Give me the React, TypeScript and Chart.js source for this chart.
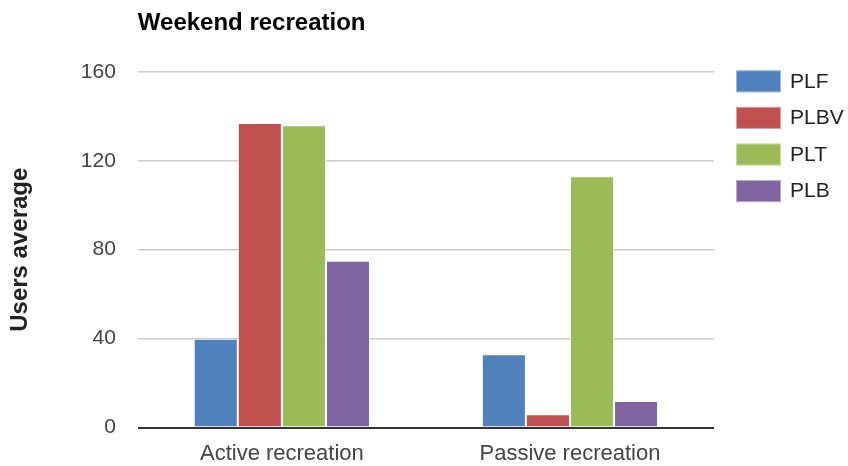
import React, { useEffect, useRef } from "react";
import { Chart, registerables } from "chart.js";

Chart.register(...registerables);

const categories = ["Active recreation", "Passive recreation"];
const seriesNames = ["PLF", "PLBV", "PLT", "PLB"];
const plfValues = [40, 33];
const plbvValues = [137, 6];
const pltValues = [136, 113];
const plbValues = [75, 12];
const seriesColors = ["#4f81bd", "#c0504d", "#9bbb59", "#8064a2"];
const yTicks = [0, 40, 80, 120, 160];

const FONT = "'Liberation Sans', Arial, sans-serif";

// Legend drawn to the right of the plot, one swatch per dataset
const sideLegend = {
  id: "sideLegend",
  afterDraw(chart: any) {
    const { ctx, chartArea } = chart;
    const x0 = chartArea.right + 22;
    let y = chartArea.top - 1.5;
    ctx.save();
    ctx.font = `21px ${FONT}`;
    ctx.textBaseline = "middle";
    ctx.textAlign = "left";
    chart.data.datasets.forEach((ds: any) => {
      ctx.fillStyle = ds.backgroundColor;
      ctx.fillRect(x0, y, 45, 22);
      ctx.strokeStyle = "rgba(255,255,255,0.45)";
      ctx.lineWidth = 1;
      ctx.strokeRect(x0 + 0.5, y + 0.5, 44, 21);
      ctx.fillStyle = "#222";
      ctx.fillText(ds.label, x0 + 54, y + 11.5);
      y += 36.6;
    });
    ctx.restore();
  },
};

export default function App() {
  const canvasRef = useRef<HTMLCanvasElement | null>(null);

  useEffect(() => {
    document.body.style.margin = "0";
    const canvas = canvasRef.current;
    if (!canvas) return;
    const seriesValues = [plfValues, plbvValues, pltValues, plbValues];
    const chart = new Chart(canvas, {
      type: "bar",
      data: {
        labels: categories,
        datasets: seriesNames.map((name, i) => ({
          label: name,
          data: seriesValues[i],
          backgroundColor: seriesColors[i],
          borderColor: "rgba(255,255,255,0.85)",
          borderWidth: 1,
          categoryPercentage: 0.612,
          barPercentage: 1,
        })),
      },
      options: {
        responsive: false,
        animation: false,
        layout: { padding: { left: 0, right: 134, top: 0, bottom: -14 } },
        plugins: {
          legend: { display: false },
          tooltip: { enabled: false },
          title: {
            display: true,
            text: "Weekend recreation",
            align: "start",
            fullSize: false,
            color: "#000",
            font: { family: FONT, size: 24, weight: "bold" },
            padding: { top: 9, bottom: 34 },
          },
        },
        scales: {
          x: {
            grid: { display: false, drawTicks: false },
            border: { display: false },
            ticks: {
              color: "#444",
              font: { family: FONT, size: 22 },
              padding: 13,
            },
          },
          y: {
            min: 0,
            max: 160,
            afterBuildTicks: (scale: any) => {
              scale.ticks = yTicks.map((v) => ({ value: v }));
            },
            ticks: {
              color: "#444",
              font: { family: FONT, size: 21 },
              padding: 22,
            },
            grid: {
              drawTicks: false,
              color: (c: any) => (c.tick && c.tick.value === 0 ? "#333" : "#cccccc"),
              lineWidth: (c: any) => (c.tick && c.tick.value === 0 ? 2 : 1.5),
            },
            border: { display: false },
            title: {
              display: true,
              text: "Users average",
              color: "#222",
              font: { family: FONT, size: 24, weight: "bold" },
              padding: { top: 6, bottom: 24 },
            },
          },
        },
      },
      plugins: [sideLegend],
    });
    return () => chart.destroy();
  }, []);

  return (
    <div style={{ width: 848, height: 466 }}>
      <canvas ref={canvasRef} width={848} height={466} />
    </div>
  );
}
